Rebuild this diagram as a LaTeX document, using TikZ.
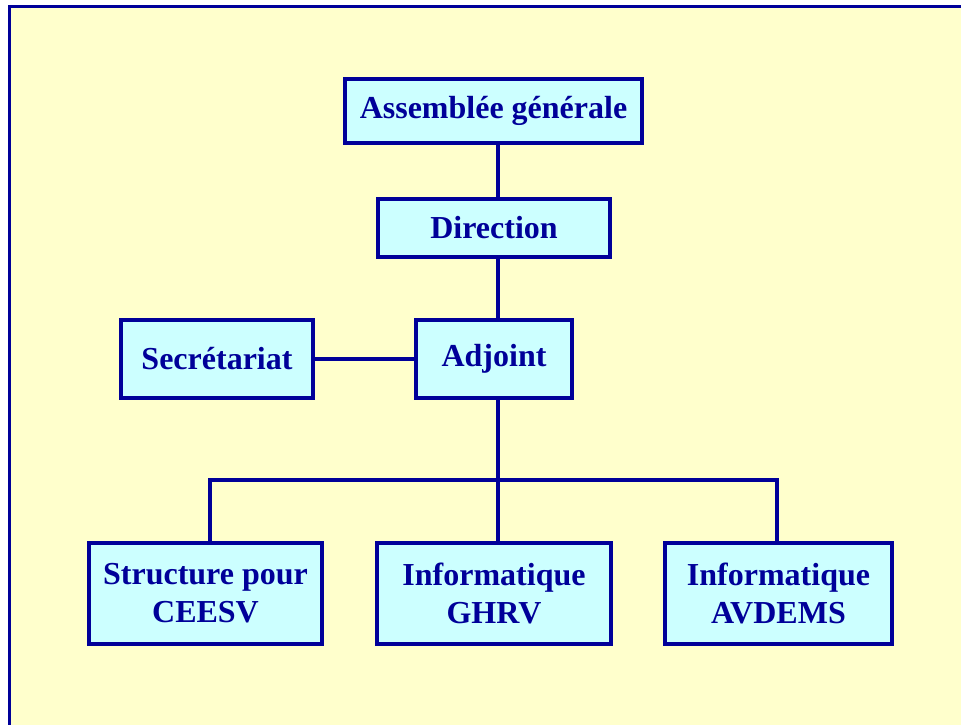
\documentclass[tikz,border=0pt]{standalone}
\usepackage{fontspec}
\setmainfont{Liberation Serif}
\definecolor{navy}{RGB}{0,0,153}
\definecolor{paper}{RGB}{255,255,204}
\definecolor{boxfill}{RGB}{204,255,255}
\begin{document}
\begin{tikzpicture}[x=1pt,y=-1pt,
  unit/.style={draw=navy, line width=3.2pt, fill=boxfill, text=navy,
    font=\fontsize{32}{38}\selectfont\bfseries, align=center,
    inner sep=0pt, anchor=center},
  link/.style={draw=navy, line width=4pt}]
\useasboundingbox (0,0) rectangle (961,725);
\clip (0,0) rectangle (961,725);
\fill[white] (0,0) rectangle (961,725);
% page frame, open towards the right and bottom
\draw[navy, fill=paper, line width=3pt] (9,7) rectangle (990,760);

% x of the vertical trunk and the drop points on the lower bus
\coordinate (trunk) at (498,0);
\coordinate (dropL) at (210,480);
\coordinate (dropM) at (498,480);
\coordinate (dropR) at (777,480);

\node[unit, minimum width=297pt, minimum height=64pt] (ag) at (493.5,111) {Assemblée générale};
\node[unit, minimum width=232pt, minimum height=58pt] (dir) at (494,228) {Direction};
\node[unit, minimum width=192pt, minimum height=78pt] (sec) at (217,359) {Secrétariat};
\node[unit, minimum width=156pt, minimum height=78pt] (adj) at (494,359) {Adjoint};
\node[unit, minimum width=233pt, minimum height=101pt] (ceesv) at (205.5,593.5) {Structure pour\\CEESV};
\node[unit, minimum width=234pt, minimum height=101pt] (ghrv) at (494,593.5) {Informatique\\GHRV};
\node[unit, minimum width=227pt, minimum height=101pt] (avdems) at (778.5,593.5) {Informatique\\AVDEMS};

% connectors, from box border to box border
\draw[link] (ag.south -| trunk) -- (dir.north -| trunk);
\draw[link] (dir.south -| trunk) -- (adj.north -| trunk);
\draw[link] (sec.east) -- (adj.west);
\draw[link] (adj.south -| trunk) -- (dropM);
\draw[link] (dropL |- ceesv.north) -- (dropL) -- (dropR) -- (dropR |- avdems.north);
\draw[link] (dropM) -- (ghrv.north -| trunk);
\end{tikzpicture}
\end{document}
